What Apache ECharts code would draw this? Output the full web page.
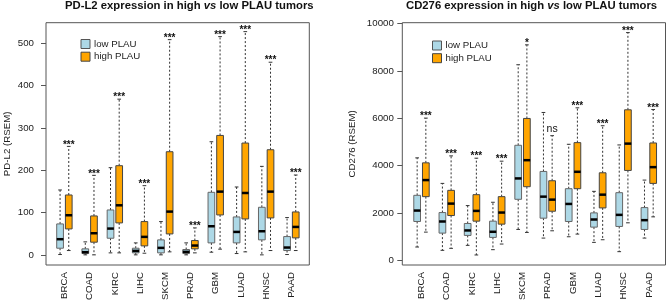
<!DOCTYPE html>
<html>
<head>
<meta charset="utf-8">
<script src="https://cdn.jsdelivr.net/npm/echarts@6/dist/echarts.min.js"></script>
<style>
  html, body { margin: 0; padding: 0; background: #fff; }
  #chart { width: 669px; height: 303px; }
</style>
</head>
<body>
<div id="chart"></div>
<script>
const categories = ['BRCA', 'COAD', 'KIRC', 'LIHC', 'SKCM', 'PRAD', 'GBM', 'LUAD', 'HNSC', 'PAAD'];

// each box: [min, q1, median, q3, max]
const pdl2Low = [
    [0.8, 15.7, 37, 73.1, 153.3],
    [0, 3.1, 6.3, 14.2, 30.7],
    [4.7, 39.3, 62.1, 106.1, 206],
    [0, 4.7, 9.4, 15.7, 28.3],
    [0, 4.7, 16.5, 35.4, 78.6],
    [0, 3.1, 7.1, 12.6, 28.3],
    [6.3, 28.3, 67.6, 147.8, 267.3],
    [3.1, 28.3, 54.2, 89.6, 160.4],
    [0, 35.4, 55.8, 112.4, 209.1],
    [0.8, 10.2, 17.3, 43.2, 88.1]
];
const pdl2High = [
    [10.2, 61.3, 93.6, 141.5, 256.3],
    [0, 29.9, 51.1, 92, 187.9],
    [4.7, 75.5, 117.1, 210.7, 367.9],
    [3.9, 21.2, 42.5, 78.6, 163.5],
    [7.1, 49.5, 102.2, 243.7, 508.6],
    [4.7, 14.2, 22, 33.8, 63.7],
    [13.4, 94.3, 149.4, 282.2, 515.7],
    [7.1, 84.9, 146.2, 264.2, 527.5],
    [10.2, 87.3, 149.4, 248.4, 455.2],
    [10.2, 40.1, 66, 101.4, 188.7]
];
const pdl2Sig = ['***', '***', '***', '***', '***', '***', '***', '***', '***', '***'];
const pdl2Ticks = [0, 100, 200, 300, 400, 500];

const cd276Low = [
    [560, 1639, 2101, 2745, 4328],
    [420, 1148, 1639, 2017, 3249],
    [630, 1050, 1261, 1555, 2311],
    [448, 966, 1204, 1653, 2451],
    [1303, 2577, 3459, 4860, 8263],
    [938, 1779, 2689, 3754, 6246],
    [994, 1639, 2381, 3025, 4902],
    [756, 1401, 1723, 2003, 2913],
    [364, 1429, 1919, 2857, 4874],
    [938, 1303, 1695, 2227, 3389]
];
const cd276High = [
    [1190, 2689, 3389, 4118, 6008],
    [504, 1891, 2395, 2955, 4412],
    [224, 1653, 2087, 2773, 4314],
    [686, 1527, 2017, 2689, 4188],
    [1176, 3109, 4230, 5994, 9104],
    [1246, 2073, 2563, 3361, 5266],
    [1106, 3025, 3739, 4972, 6443],
    [868, 2213, 2773, 3697, 5686],
    [1583, 3796, 4930, 6359, 9622],
    [1835, 3249, 3936, 4958, 6373]
];
const cd276Sig = ['***', '***', '***', '***', '*', 'ns', '***', '***', '***', '***'];
const cd276Ticks = [0, 2000, 4000, 6000, 8000, 10000];

const FONT = 'Liberation Sans, Arial, sans-serif';
const LOW_COLOR = '#ADD8E6';
const HIGH_COLOR = '#FFA500';

function toData(boxes, sig) {
    return boxes.map((b, i) => [i + 1].concat(b, [sig ? sig[i] : '']));
}

function makeRender(side, fill, border) {
    return function (params, api) {
        const unit = api.size([1, 0])[0];
        const cx = api.coord([api.value(0), 0])[0] + side * 0.172 * unit;
        const half = 0.133 * unit;
        const capHalf = half * 0.55;
        const yMin = api.coord([0, api.value(1)])[1];
        const yQ1 = api.coord([0, api.value(2)])[1];
        const yMed = api.coord([0, api.value(3)])[1];
        const yQ3 = api.coord([0, api.value(4)])[1];
        const yMax = api.coord([0, api.value(5)])[1];
        const dash = { stroke: '#333', lineWidth: 1, lineDash: [2, 2] };
        const solid = { stroke: '#333', lineWidth: 1 };
        const children = [
            { type: 'line', shape: { x1: cx, y1: yQ3, x2: cx, y2: yMax }, style: dash },
            { type: 'line', shape: { x1: cx, y1: yQ1, x2: cx, y2: yMin }, style: dash },
            { type: 'line', shape: { x1: cx - capHalf, y1: yMax, x2: cx + capHalf, y2: yMax }, style: solid },
            { type: 'line', shape: { x1: cx - capHalf, y1: yMin, x2: cx + capHalf, y2: yMin }, style: solid },
            {
                type: 'rect',
                shape: { x: cx - half, y: yQ3, width: half * 2, height: yQ1 - yQ3 },
                style: { fill: fill, stroke: border, lineWidth: 1 }
            },
            { type: 'line', shape: { x1: cx - half, y1: yMed, x2: cx + half, y2: yMed }, style: { stroke: '#000', lineWidth: 2.5 } }
        ];
        const sig = api.value(6);
        if (sig) {
            const stars = sig.indexOf('*') >= 0;
            children.push({
                type: 'text',
                style: {
                    text: sig,
                    x: cx,
                    y: stars ? yMax + 3.5 : yMax - 1,
                    align: 'center',
                    verticalAlign: 'bottom',
                    fill: '#111',
                    font: (stars ? 'bold 10px ' : '10.5px ') + FONT
                }
            });
        }
        return { type: 'group', children: children };
    };
}

function boxSeries(name, idx, boxes, sig, side, fill, border) {
    return {
        name: name,
        type: 'custom',
        xAxisIndex: idx,
        yAxisIndex: idx,
        renderItem: makeRender(side, fill, border),
        itemStyle: { color: fill, borderColor: border, borderWidth: 1 },
        encode: { x: 0, y: [1, 2, 3, 4, 5] },
        data: toData(boxes, sig),
        silent: true
    };
}

const legendData = [
    { name: 'low PLAU', itemStyle: { color: LOW_COLOR, borderColor: '#555', borderWidth: 1 } },
    { name: 'high PLAU', itemStyle: { color: HIGH_COLOR, borderColor: '#444', borderWidth: 1 } }
];

function legendAt(left, top) {
    return {
        left: left, top: top, orient: 'vertical', icon: 'rect',
        itemWidth: 9, itemHeight: 9, itemGap: 2.7, padding: 0,
        selectedMode: false, data: legendData,
        textStyle: { fontFamily: FONT, fontSize: 9.7, color: '#222', lineHeight: 9, padding: [0, 0, 0, -1] }
    };
}

function xAxisFor(idx, min, max) {
    return {
        type: 'value', gridIndex: idx, min: min, max: max,
        axisLine: { show: false }, axisTick: { show: false }, splitLine: { show: false },
        axisLabel: {
            customValues: categories.map((c, i) => i + 1),
            formatter: v => categories[Math.round(v) - 1] || '',
            rotate: 90, margin: 7, fontFamily: FONT, fontSize: 9.7, color: '#222'
        }
    };
}

function yAxisFor(idx, min, max, ticks, name, gap, margin) {
    return {
        type: 'value', gridIndex: idx, min: min, max: max,
        name: name, nameLocation: 'middle', nameGap: gap,
        nameTextStyle: { fontFamily: FONT, fontSize: 9.7, color: '#222' },
        axisLine: { show: false },
        splitLine: { show: false },
        axisTick: { show: true, length: 5, customValues: ticks, lineStyle: { color: '#555' } },
        axisLabel: {
            customValues: ticks, margin: margin, formatter: v => String(v),
            fontFamily: FONT, fontSize: 9.7, color: '#222'
        }
    };
}

const chart = echarts.init(document.getElementById('chart'), null, { renderer: 'canvas' });

const titleRich = {
    a: { fontFamily: FONT, fontSize: 11.3, fontWeight: 'bold', color: '#111' },
    b: { fontFamily: FONT, fontSize: 11.3, fontWeight: 'bold', fontStyle: 'italic', color: '#111' }
};

chart.setOption({
    animation: false,
    backgroundColor: '#fff',
    title: [
        { text: '{a|PD-L2 expression in high }{b|vs}{a| low PLAU tumors}', left: 65, top: 0, padding: 0, textStyle: { rich: titleRich } },
        { text: '{a|CD276 expression in high }{b|vs}{a| low PLAU tumors}', left: 406, top: 0, padding: 0, textStyle: { rich: titleRich } }
    ],
    legend: [legendAt(80.5, 39), legendAt(432, 40.5)],
    grid: [
        { left: 46, top: 22.7, width: 263.3, height: 242.8, show: true, borderColor: '#555', borderWidth: 1, backgroundColor: 'transparent' },
        { left: 402.3, top: 22.7, width: 263.2, height: 242.8, show: true, borderColor: '#555', borderWidth: 1, backgroundColor: 'transparent' }
    ],
    xAxis: [xAxisFor(0, 0.27, 10.71), xAxisFor(1, 0.24, 10.66)],
    yAxis: [
        yAxisFor(0, -24, 548.6, pdl2Ticks, 'PD-L2 (RSEM)', 34, 12),
        yAxisFor(1, -200, 10040, cd276Ticks, 'CD276 (RSEM)', 45, 8.5)
    ],
    series: [
        boxSeries('low PLAU', 0, pdl2Low, null, -1, LOW_COLOR, '#666'),
        boxSeries('high PLAU', 0, pdl2High, pdl2Sig, 1, HIGH_COLOR, '#444'),
        boxSeries('low PLAU', 1, cd276Low, null, -1, LOW_COLOR, '#666'),
        boxSeries('high PLAU', 1, cd276High, cd276Sig, 1, HIGH_COLOR, '#444')
    ]
});
</script>
</body>
</html>
